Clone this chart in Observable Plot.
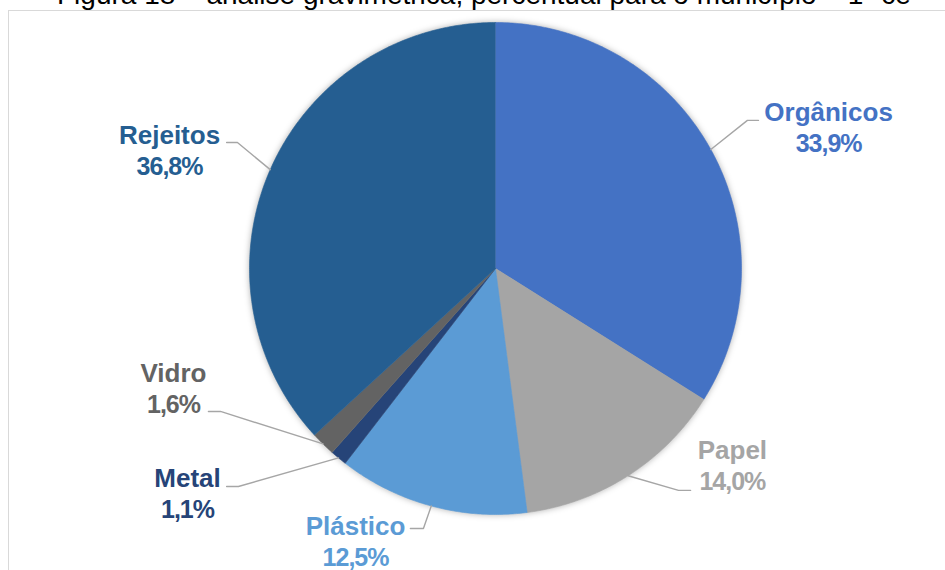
<!DOCTYPE html>
<html><head><meta charset="utf-8">
<script src="https://cdn.jsdelivr.net/npm/d3@7"></script>
<script src="https://cdn.jsdelivr.net/npm/@observablehq/plot@0.6"></script>
<style>
html,body{margin:0;padding:0;background:#fff;overflow:hidden;}
#wrap{position:relative;width:945px;height:570px;overflow:hidden;background:#fff;}
#title{position:absolute;left:57px;top:-19px;font:28px "Liberation Sans",Arial,sans-serif;white-space:nowrap;color:#000;line-height:1;}
#frame{position:absolute;left:8px;top:10px;width:1000px;height:1000px;border:1.5px solid #d9d9d9;box-sizing:border-box;pointer-events:none;}
#chart{position:absolute;left:0;top:0;}
</style></head>
<body>
<div id="wrap">
  <div id="title">Figura 18 – análise gravimétrica, percentual para o município – 1º ce</div>
  <div id="frame"></div>
  <div id="chart"></div>
</div>
<script>
// ---- data ----
const categories = ["Orgânicos", "Papel", "Plástico", "Metal", "Vidro", "Rejeitos"];
const values = [33.9, 14.0, 12.5, 1.1, 1.6, 36.8];
const valueLabels = ["33,9%", "14,0%", "12,5%", "1,1%", "1,6%", "36,8%"];

// ---- styles / layout (kept separate from data) ----
const palette = ["#4472C4", "#A5A5A5", "#5B9BD5", "#264478", "#636363", "#255E91"];
// label anchor (text centre, first-line baseline), in pie-radius units
const labelAt = [[1.354,-0.598],[0.963,0.776],[-0.569,1.085],[-1.252,0.890],[-1.309,0.463],[-1.325,-0.508]];
const leaderElbow = [[1.024,-0.602],[0.744,0.902],[-0.293,1.057],[-1.045,0.886],[-1.118,0.581],[-1.049,-0.512]];
const leaderEnd = [[1.069,-0.602],[0.793,0.902],[-0.346,1.057],[-1.093,0.886],[-1.167,0.581],[-1.093,-0.512]];

// ---- build slices from values ----
const total = d3.sum(values);
let acc = 0;
const slicePts = [];
const mids = [];
categories.forEach((c, i) => {
  const a0 = acc / total * 2 * Math.PI;
  acc += values[i];
  const a1 = acc / total * 2 * Math.PI;
  slicePts.push({name: c, x: 0, y: 0});
  const n = Math.max(2, Math.ceil((a1 - a0) / (Math.PI / 360)));
  for (let k = 0; k <= n; k++) {
    const a = a0 + (a1 - a0) * k / n;
    slicePts.push({name: c, x: Math.sin(a), y: -Math.cos(a)});
  }
  mids.push((a0 + a1) / 2);
});

const leaderPts = [];
categories.forEach((c, i) => {
  leaderPts.push({name: c, x: Math.sin(mids[i]), y: -Math.cos(mids[i])});
  leaderPts.push({name: c, x: leaderElbow[i][0], y: leaderElbow[i][1]});
  leaderPts.push({name: c, x: leaderEnd[i][0], y: leaderEnd[i][1]});
});

const labels = categories.map((c, i) => ({name: c, value: valueLabels[i], x: labelAt[i][0], y: labelAt[i][1]}));

const chart = Plot.plot({
  width: 945, height: 570,
  marginLeft: 249, marginRight: 204, marginTop: 22, marginBottom: 56,
  x: {domain: [-1, 1], axis: null},
  y: {domain: [-1, 1], reverse: true, axis: null},
  color: {domain: categories, range: palette},
  style: {background: "transparent", fontFamily: "'Liberation Sans', Arial, sans-serif"},
  marks: [
    Plot.line(slicePts, {x: "x", y: "y", z: "name", fill: "name", stroke: "name", strokeWidth: 0.6, curve: "linear"}),
    Plot.line(leaderPts, {x: "x", y: "y", z: "name", stroke: "#A6A6A6", strokeWidth: 1.4, curve: "linear"}),
    Plot.text(labels, {x: "x", y: "y", text: "name", fill: "name", fontSize: 26, fontWeight: "bold", lineAnchor: "bottom", textAnchor: "middle"}),
    Plot.text(labels, {x: "x", y: "y", text: "value", fill: "name", fontSize: 25, fontWeight: "bold", lineAnchor: "bottom", textAnchor: "middle", dy: 31})
  ]
});
document.getElementById("chart").appendChild(chart);
const svg = d3.select(chart);
const lineGroups = svg.selectAll('g[aria-label="line"]').nodes();
if (lineGroups[0]) lineGroups[0].style.filter = "drop-shadow(0px 0px 3px rgba(0,0,0,0.3))";
const textGroups = svg.selectAll('g[aria-label="text"]').nodes();
if (textGroups[1]) textGroups[1].style.letterSpacing = "-1px";
</script>
</body></html>
